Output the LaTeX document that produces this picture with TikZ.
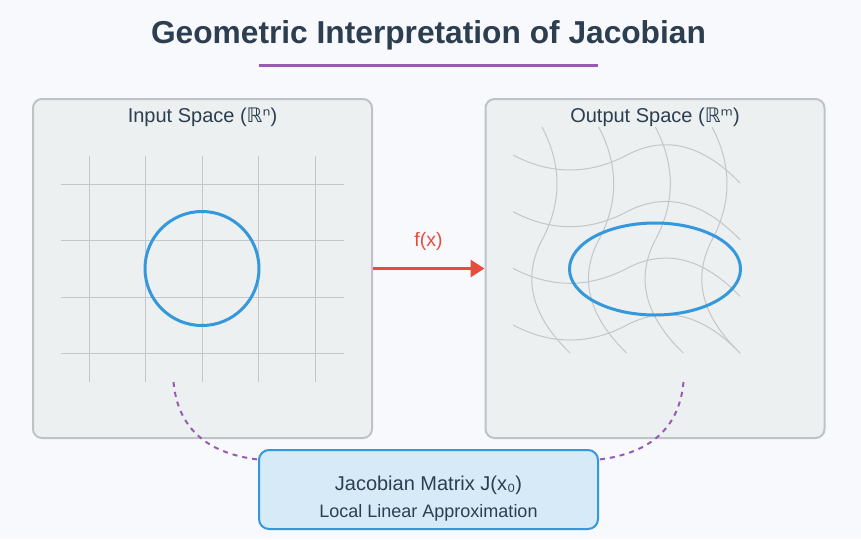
\documentclass[tikz,border=0pt]{standalone}
\usepackage{fontspec}
\setmainfont{Liberation Sans}
\newfontfamily\symfont{DejaVu Sans}
\usetikzlibrary{positioning}
\usetikzlibrary{arrows.meta}

\definecolor{bgcol}{HTML}{F8F9FC}
\definecolor{inkcol}{HTML}{2C3E50}
\definecolor{panelfill}{HTML}{ECF0F1}
\definecolor{panelline}{HTML}{BDC3C7}
\definecolor{gridcol}{HTML}{C3C7CB}
\definecolor{bluecol}{HTML}{3498DB}
\definecolor{boxfill}{HTML}{D6EAF8}
\definecolor{redcol}{HTML}{E74C3C}
\definecolor{purplecol}{HTML}{9B59B6}

\tikzset{
  panel/.style={draw=panelline, line width=2pt, fill=panelfill, rounded corners=9pt,
    minimum width=339pt, minimum height=339pt, inner sep=0pt},
  spacetitle/.style={anchor=base, text=inkcol, font=\fontsize{20}{24}\selectfont, inner sep=0pt},
  gridline/.style={draw=gridcol, line width=1pt},
  shapeline/.style={draw=bluecol, line width=3pt},
  jacbox/.style={draw=bluecol, line width=2pt, fill=boxfill, rounded corners=10pt,
    minimum width=339pt, minimum height=79pt, inner sep=0pt},
  maparrow/.style={draw=redcol, line width=3pt, -{Triangle[length=14pt, width=17pt]}},
  linkline/.style={draw=purplecol, line width=2pt, dash pattern=on 5pt off 5pt}
}

\begin{document}
\begin{tikzpicture}[x=1pt, y=-1pt]
    \fill[bgcol] (0,0) rectangle (861,539);
    \useasboundingbox (0,0) rectangle (861,539);

    \node [anchor=base, text=inkcol, font=\fontsize{31.7}{38}\selectfont\bfseries] (title) at (428.5,43)
      {Geometric Interpretation of Jacobian};
    \draw [purplecol, line width=3pt] (259,65) -- (598,65);

    \node [panel] (inp) at (202.5,268.5) {};
    \node [panel] (out) at (655,268.5) {};
    \node [spacetitle] (inptitle) at (202.5,122) {Input Space ({\symfont ℝⁿ})};
    \node [spacetitle] (outtitle) at (655,122) {Output Space ({\symfont ℝᵐ})};

    % input grid
    \draw [gridline] (61,184) -- (344,184);
    \draw [gridline] (61,240.5) -- (344,240.5);
    \draw [gridline] (61,297) -- (344,297);
    \draw [gridline] (61,353.5) -- (344,353.5);
    \draw [gridline] (89,156) -- (89,382);
    \draw [gridline] (145.5,156) -- (145.5,382);
    \draw [gridline] (202,156) -- (202,382);
    \draw [gridline] (258.5,156) -- (258.5,382);
    \draw [gridline] (315,156) -- (315,382);
    \draw [shapeline] (202,268.5) circle [radius=57];

    % output grid, bent
    \draw [gridline] (513,155) .. controls (551,175) and (589,175) .. (627,155) .. controls (665,135) and (702.7,144.3) .. (740,183);
    \draw [gridline] (513,211.7) .. controls (551,231.7) and (589,231.7) .. (627,211.7) .. controls (665,191.7) and (702.7,201) .. (740,239.7);
    \draw [gridline] (513,268.3) .. controls (551,288.3) and (589,288.3) .. (627,268.3) .. controls (665,248.3) and (702.7,257.6) .. (740,296.3);
    \draw [gridline] (513,325) .. controls (551,345) and (589,345) .. (627,325) .. controls (665,305) and (702.7,314.3) .. (740,353);
    \draw [gridline] (542,127) .. controls (562,165) and (562,202.7) .. (542,240) .. controls (522,278) and (531.3,315.7) .. (570,353);
    \draw [gridline] (598.7,127) .. controls (618.7,165) and (618.7,202.7) .. (598.7,240) .. controls (578.7,278) and (588,315.7) .. (626.7,353);
    \draw [gridline] (655.3,127) .. controls (675.3,165) and (675.3,202.7) .. (655.3,240) .. controls (635.3,278) and (644.6,315.7) .. (683.3,353);
    \draw [gridline] (712,127) .. controls (732,165) and (732,202.7) .. (712,240) .. controls (692,278) and (701.3,315.7) .. (740,353);
    \draw [shapeline] (655,269) ellipse [x radius=85.5, y radius=46];

    \draw [maparrow] (inp.east) -- (out.west);
    \node [anchor=base, text=redcol, font=\fontsize{19.5}{23}\selectfont] (fx) at (428.5,246) {f(x)};

    \node [jacbox] (jac) at (428.5,489.5) {};
    \node [anchor=base, text=inkcol, font=\fontsize{20}{24}\selectfont] (jactitle) at (428.5,490.5) {Jacobian Matrix J(x₀)};
    \node [anchor=base, text=inkcol, font=\fontsize{18}{22}\selectfont] (jacsub) at (428.5,517.5) {Local Linear Approximation};

    \coordinate (inpfoot) at (173.5,382);
    \coordinate (outfoot) at (683.5,382);
    \draw [linkline] (inpfoot) .. controls (177.7,427.3) and (206,453.3) .. ([yshift=-10.5pt]jac.north west);
    \draw [linkline] (outfoot) .. controls (679.3,427.3) and (651,453.3) .. ([yshift=-10.5pt]jac.north east);
\end{tikzpicture}
\end{document}
